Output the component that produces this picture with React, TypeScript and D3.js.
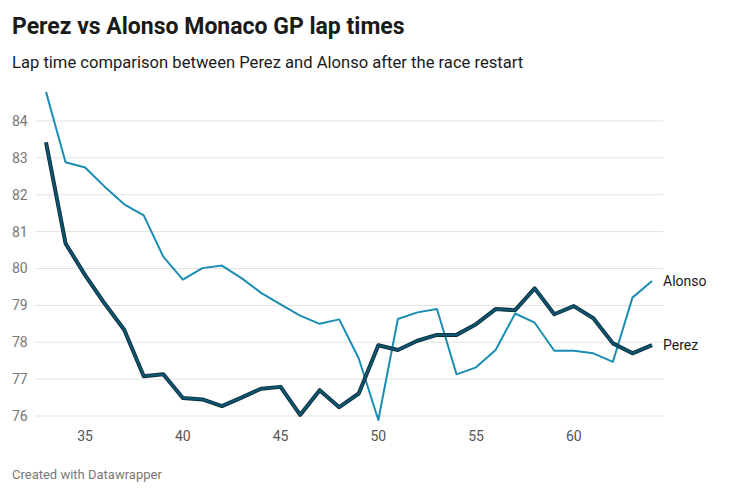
import React from "react";
import { scaleLinear, line as d3_line } from "d3";

const laps = [
  33, 34, 35, 36, 37, 38, 39, 40, 41, 42, 43, 44, 45, 46, 47, 48,
  49, 50, 51, 52, 53, 54, 55, 56, 57, 58, 59, 60, 61, 62, 63, 64,
];

const perez = [
  83.42, 80.68, 79.82, 79.05, 78.34, 77.08, 77.13, 76.49, 76.45, 76.27, 76.5, 76.74,
  76.79, 76.03, 76.7, 76.24, 76.61, 77.92, 77.79, 78.04, 78.2, 78.2, 78.49, 78.9,
  78.87, 79.46, 78.76, 78.98, 78.65, 77.97, 77.7, 77.92,
];

const alonso = [
  84.79, 82.88, 82.74, 82.22, 81.74, 81.44, 80.32, 79.7, 80.01, 80.08, 79.74, 79.34,
  79.03, 78.72, 78.5, 78.62, 77.56, 75.89, 78.63, 78.81, 78.9, 77.13, 77.32, 77.79,
  78.78, 78.53, 77.77, 77.77, 77.7, 77.47, 79.21, 79.66,
];

const yTicks = [76, 77, 78, 79, 80, 81, 82, 83, 84];
const xTicks = [35, 40, 45, 50, 55, 60];

const font = "Roboto, 'Noto Sans', sans-serif";

export default function App() {
  const x = scaleLinear().domain([33, 64]).range([46, 652]);
  const y = scaleLinear().domain([76, 84]).range([416, 121]);

  const mk = (vals: number[]) =>
    d3_line<number>()
      .x((_, i) => x(laps[i]))
      .y((d) => y(d))(vals) ?? "";

  return (
    <svg
      width={730}
      height={495}
      style={{ position: "fixed", top: 0, left: 0, background: "#fff" }}
      fontFamily={font}
    >
      {/* Header */}
      <text x={12} y={34} fontSize={23} fontWeight={700} fill="#1a1a1a">
        Perez vs Alonso Monaco GP lap times
      </text>
      <text x={12} y={68} fontSize={16.6} fill="#1a1a1a">
        Lap time comparison between Perez and Alonso after the race restart
      </text>

      {/* Grid + y axis */}
      {yTicks.map((t) => (
        <g key={t}>
          <line x1={35} x2={663} y1={y(t)} y2={y(t)} stroke="#e2e2e2" strokeWidth={1} />
          <text x={12} y={y(t)} dy="0.35em" fontSize={14} fill="#777">
            {t}
          </text>
        </g>
      ))}

      {/* x axis */}
      {xTicks.map((t) => (
        <text key={t} x={x(t)} y={441} textAnchor="middle" fontSize={14} fill="#555">
          {t}
        </text>
      ))}

      {/* Lines */}
      <path d={mk(alonso)} fill="none" stroke="#1b8db3" strokeWidth={2} strokeLinejoin="round" />
      <path d={mk(perez)} fill="none" stroke="#0a2f3e" strokeWidth={4} strokeLinejoin="round" />
      <path d={mk(perez)} fill="none" stroke="#0f5570" strokeWidth={2.2} strokeLinejoin="round" />

      {/* Line labels */}
      <text x={663} y={y(alonso[alonso.length - 1])} dy="0.35em" fontSize={14} fill="#1a1a1a">
        Alonso
      </text>
      <text x={663} y={y(perez[perez.length - 1])} dy="0.35em" fontSize={14} fill="#1a1a1a">
        Perez
      </text>

      {/* Footer */}
      <text x={12} y={479} fontSize={13} fill="#777">
        Created with Datawrapper
      </text>
    </svg>
  );
}
